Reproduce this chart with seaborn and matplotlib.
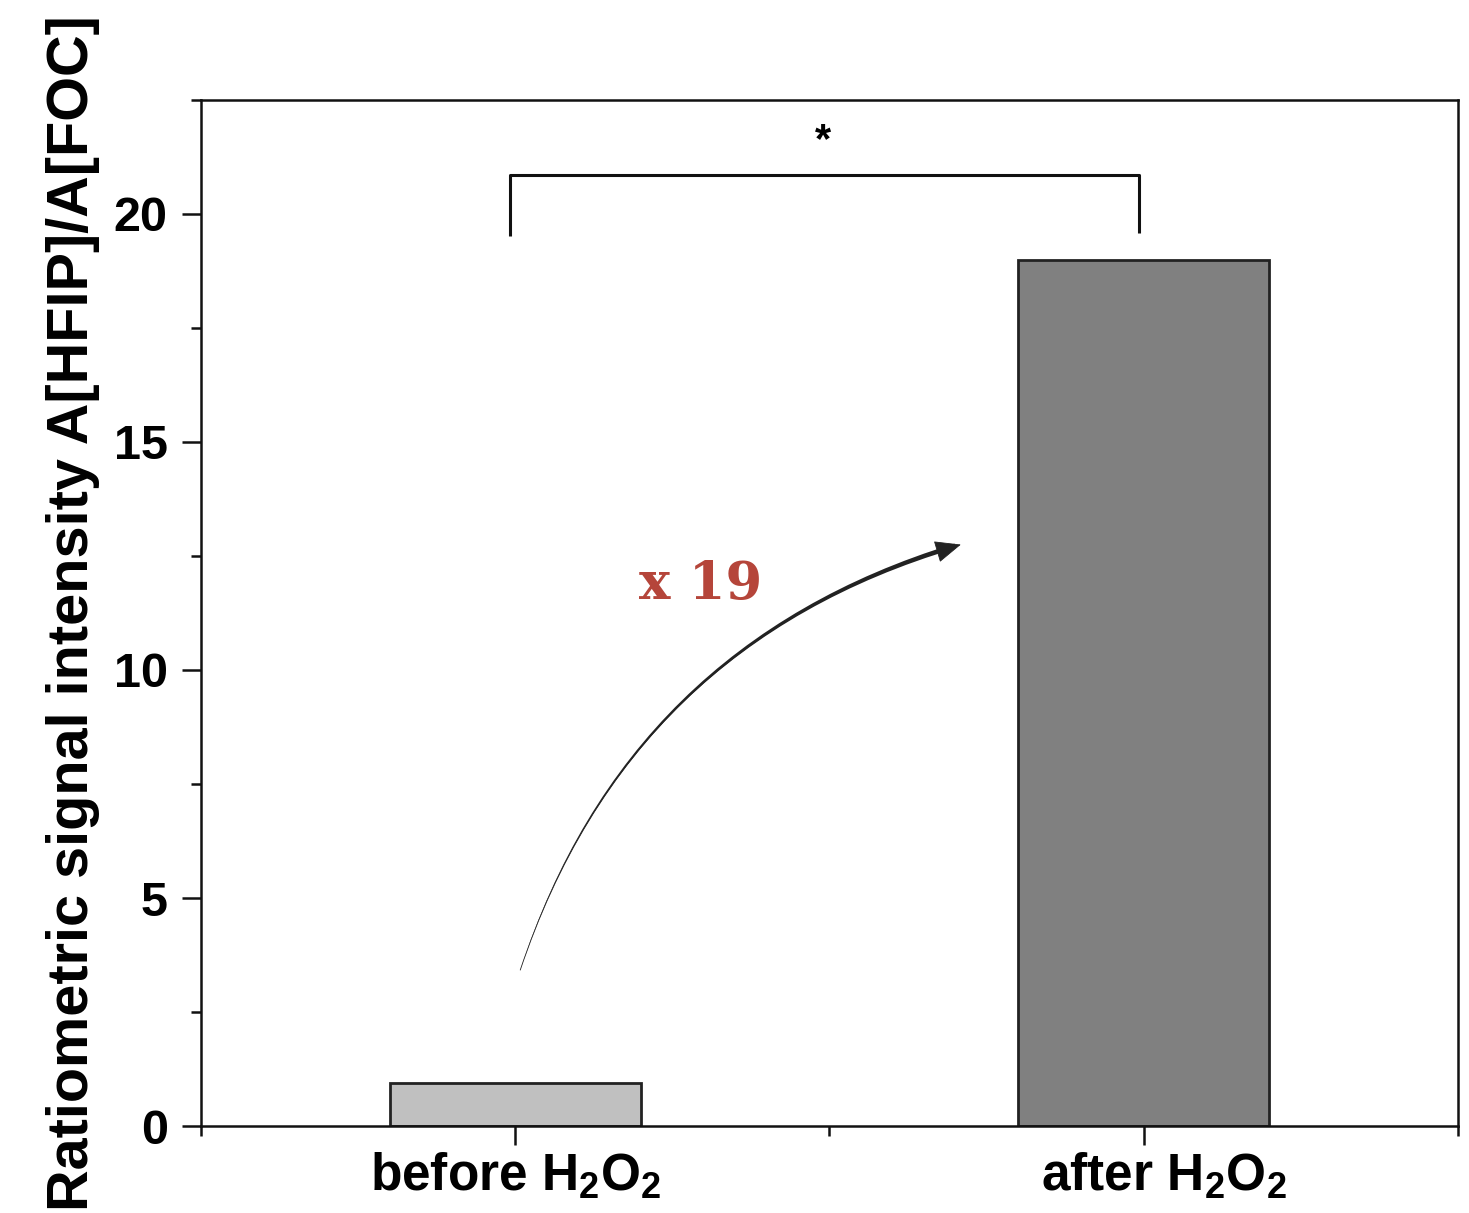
import matplotlib
matplotlib.use("Agg")
import matplotlib.pyplot as plt
import matplotlib.transforms as mtransforms
import seaborn as sns
import pandas as pd
from matplotlib.ticker import MultipleLocator, FixedLocator

categories = ["before H$_\\mathbf{2}$O$_\\mathbf{2}$", "after H$_\\mathbf{2}$O$_\\mathbf{2}$"]
values = [0.94, 19.0]
bar_colors = ["#c0c0c0", "#808080"]
y_ticks = [0, 5, 10, 15, 20]
fold_label = "x 19"
sig_label = "*"

sns.set_theme(style="ticks")
plt.rcParams['font.family'] = ['Liberation Sans', 'DejaVu Sans']
plt.rcParams['mathtext.fontset'] = 'custom'
plt.rcParams['mathtext.rm'] = 'Liberation Sans:bold'
plt.rcParams['mathtext.bf'] = 'Liberation Sans:bold'
plt.rcParams['mathtext.it'] = 'Liberation Sans:bold'
for k in ['text.color', 'axes.labelcolor', 'xtick.color', 'ytick.color',
          'xtick.labelcolor', 'ytick.labelcolor']:
    plt.rcParams[k] = 'black'

df = pd.DataFrame({"cat": categories, "val": values})

fig = plt.figure(figsize=(14.69, 12.13), dpi=100)
ax = fig.add_axes([0.1368, 0.0717, 0.8557, 0.8459])

sns.barplot(data=df, x="cat", y="val", hue="cat", palette=bar_colors,
            width=0.4, edgecolor="#222222", linewidth=2, legend=False, ax=ax,
            saturation=1)

ax.set_xlim(-0.5, 1.5)
ax.set_ylim(0, 22.5)
ax.set_yticks(y_ticks)
ax.yaxis.set_minor_locator(MultipleLocator(2.5))
ax.xaxis.set_minor_locator(FixedLocator([-0.5, 0.5, 1.5]))

for s in ax.spines.values():
    s.set_visible(True)
    s.set_linewidth(1.8)
    s.set_color("#111111")

ax.tick_params(axis="both", which="major", direction="out", length=14, width=1.8,
               color="#111111", labelsize=35)
ax.tick_params(axis="both", which="minor", direction="out", length=7, width=1.8,
               color="#111111")
ax.tick_params(axis="x", pad=4)
ax.tick_params(axis="y", pad=10)
ax.set_xticks([0, 1])
ax.set_xticklabels(categories, fontsize=37, fontweight="bold")
for lab in ax.get_yticklabels():
    lab.set_fontweight("bold")
xl = ax.get_xticklabels()
xl[1].set_transform(xl[1].get_transform() +
                    mtransforms.ScaledTranslation(20 / 100, 0, fig.dpi_scale_trans))

ax.set_xlabel("")
ax.set_ylabel("Ratiometric signal intensity A[HFIP]/A[FOC]", fontsize=41.5,
              fontweight="bold", labelpad=10)

# significance bracket
ax.plot([-0.008, -0.008, 0.992, 0.992], [19.52, 20.86, 20.86, 19.58],
        color="#111111", lw=2.2, solid_capstyle="butt")
ax.text(0.489, 21.15, sig_label, ha="center", va="bottom", fontsize=30,
        fontweight="bold", color="black")

# curved arrow: head plus tapered body
ax.annotate("", xy=(0.709, 12.75), xytext=(0.008, 3.42),
            arrowprops=dict(arrowstyle="-|>,head_length=1.4,head_width=0.6",
                            connectionstyle="arc3,rad=-0.26",
                            color="#222222", lw=0.6, shrinkA=0, shrinkB=0))
ax.annotate("", xy=(0.008, 3.42), xytext=(0.70, 12.72),
            arrowprops=dict(arrowstyle="wedge,tail_width=0.35,shrink_factor=0.5",
                            connectionstyle="arc3,rad=0.26",
                            color="#222222", lw=0, shrinkA=0, shrinkB=0,
                            mutation_scale=10))
ax.text(0.295, 11.88, fold_label, ha="center", va="center", fontsize=38,
        fontweight="bold", color="#b5453a", family=["DejaVu Serif"])

fig.savefig("out.png", dpi=100)
